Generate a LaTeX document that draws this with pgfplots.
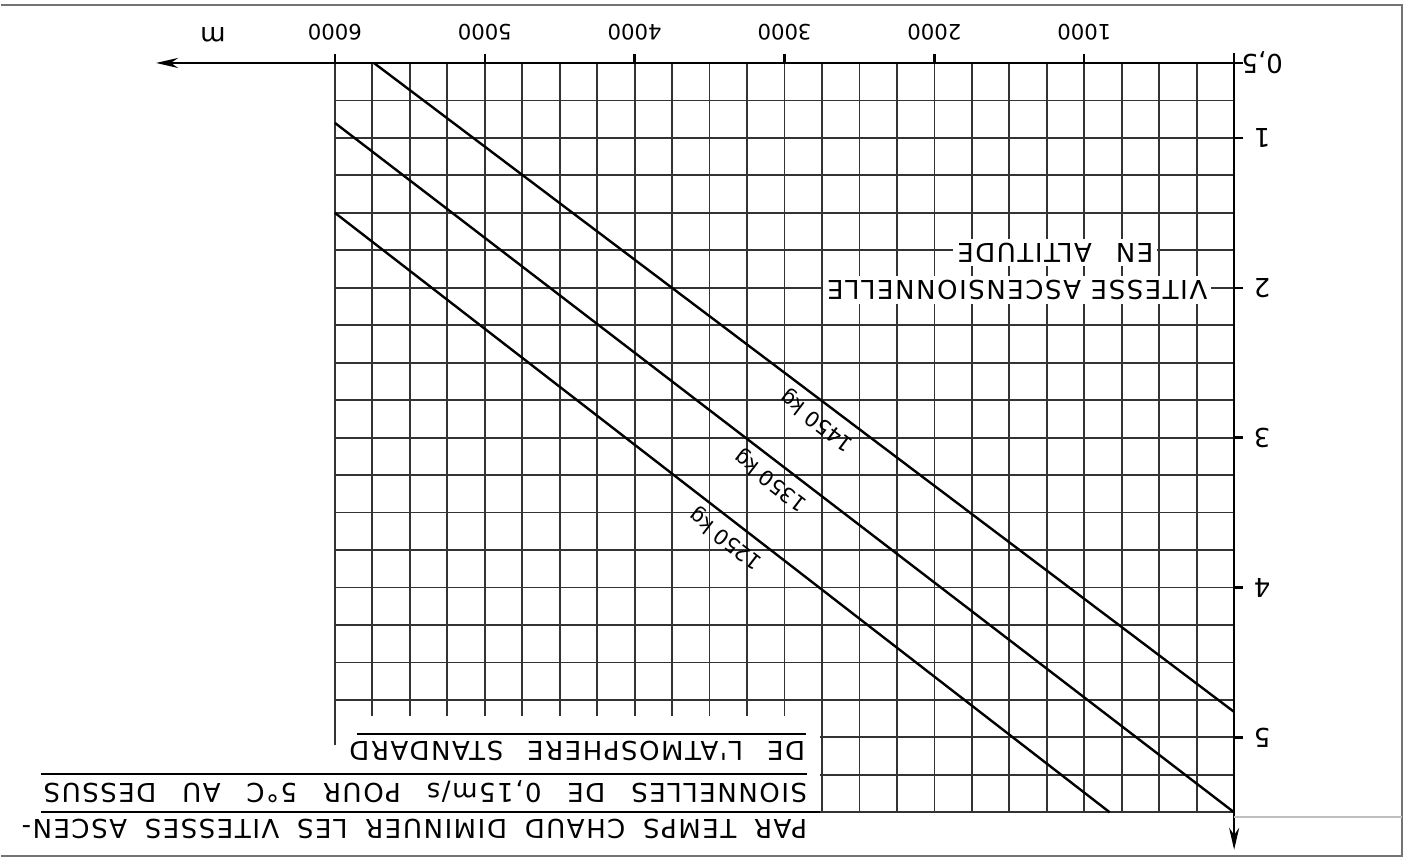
\documentclass[border=0pt]{standalone}
\usepackage{fontspec}
\setmainfont{DejaVu Sans}
\newfontfamily\lettering[LetterSpace=6]{DejaVu Sans}
\usepackage{pgfplots}
\pgfplotsset{compat=1.18}
\usetikzlibrary{arrows.meta}
\begin{document}
\begin{tikzpicture}
\begin{axis}[
  scale only axis, width=450pt, height=375pt,
  xmin=0, xmax=6000, ymin=0.5, ymax=5.5,
  x dir=reverse, y dir=reverse,
  axis x line=top, axis y line=right,
  clip=false,
  xtick={1000,2000,3000,4000,5000,6000},
  xticklabels={1000,2000,3000,4000,5000,6000},
  ytick={0.5,1,2,3,4,5},
  yticklabels={{0,5},1,2,3,4,5},
  minor xtick={0,250,...,6000},
  minor ytick={0.5,0.75,...,5.5},
  grid=both,
  major grid style={black!80, line width=0.9pt},
  minor grid style={black!80, line width=0.9pt},
  tick align=outside,
  major tick length=4.5pt,
  minor tick length=0pt,
  tick style={black, line width=1.2pt},
  /pgf/number format/assume math mode=true,
  xticklabel style={rotate=180, anchor=center, font=\fontsize{10.6}{11}\selectfont},
  yticklabel style={rotate=180, anchor=center, font=\fontsize{13}{14}\selectfont},
  xticklabel shift=11pt,
  yticklabel shift=9.5pt,
  x axis line style={line width=1.3pt, -{Stealth[length=11pt,width=5pt]}, shorten >=-89.5pt},
  y axis line style={line width=1.3pt, -{Stealth[length=11pt,width=5pt]}, shorten >=-18.75pt, shorten <=-5pt},
]
% curves
\addplot[black, line width=1.2pt] coordinates {(0,4.83) (5740,0.5)}
  node[pos=0.472, sloped, allow upside down, anchor=south, font=\fontsize{10.5}{11}\selectfont] {1450 kg};
\addplot[black, line width=1.2pt] coordinates {(0,5.5) (6000,0.9)}
  node[pos=0.503, sloped, allow upside down, anchor=south, font=\fontsize{10.5}{11}\selectfont] {1350 kg};
\addplot[black, line width=1.2pt] coordinates {(830,5.5) (6000,1.5)}
  node[pos=0.481, sloped, allow upside down, anchor=south, font=\fontsize{10.5}{11}\selectfont] {1250 kg};
% axis title inside
\node[rotate=180, fill=white, inner sep=2pt, font=\lettering\fontsize{13}{14}\selectfont] at (axis cs:1447,2.013) {VITESSE ASCENSIONNELLE};
\node[rotate=180, fill=white, inner sep=2pt, font=\lettering\fontsize{13}{14}\selectfont] at (axis cs:1193,1.767) {\makebox[98pt][s]{EN ALTITUDE}};
% note block
\fill[white] (axis cs:2765,4.86) rectangle (axis cs:6100,5.6);
\draw[black!80, line width=0.9pt] (axis cs:6000,4.85) -- (axis cs:6000,5.05);
\draw[black, line width=1pt] (axis cs:2765,5.5) -- (axis cs:7960,5.5);
\draw[black, line width=1pt] (axis cs:2850,5.247) -- (axis cs:7960,5.247);
\draw[black, line width=1pt] (axis cs:2860,4.98) -- (axis cs:5853,4.98);
\node[rotate=180, anchor=west, inner sep=0pt, font=\lettering\fontsize{13}{14}\selectfont] at (axis cs:2847,5.613) {\makebox[393pt][s]{PAR TEMPS CHAUD DIMINUER LES VITESSES ASCEN-}};
\node[rotate=180, anchor=west, inner sep=0pt, font=\lettering\fontsize{13}{14}\selectfont] at (axis cs:2847,5.36) {\makebox[382pt][s]{SIONNELLES DE 0,15m/s POUR 5°C AU DESSUS}};
\node[rotate=180, anchor=west, inner sep=0pt, font=\lettering\fontsize{13}{14}\selectfont] at (axis cs:2860,5.093) {\makebox[228pt][s]{DE L'ATMOSPHERE STANDARD}};
% unit
\node[rotate=180, font=\fontsize{13}{14}\selectfont] at (axis cs:6813,0.313) {m};
% page border
\draw[black!55, line width=1.2pt] (axis cs:8226.7,0.113) -- (axis cs:-1120,0.113) -- (axis cs:-1120,5.793) -- (axis cs:8226.7,5.793);
\draw[black!25, line width=0.8pt] (axis cs:0,5.533) -- (axis cs:-1120,5.533);
\coordinate (bbA) at (axis cs:8226.7,0.08);
\coordinate (bbB) at (axis cs:-1193.3,5.8333);
\end{axis}
\useasboundingbox (bbA) rectangle (bbB);
\end{tikzpicture}
\end{document}
